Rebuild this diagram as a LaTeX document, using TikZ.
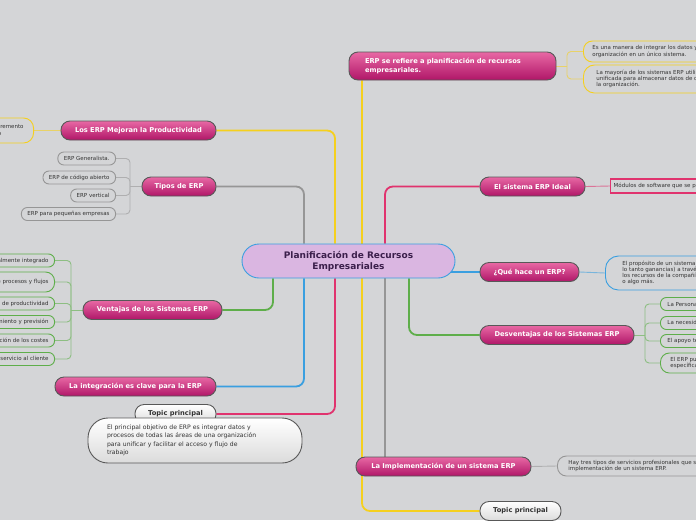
\documentclass[tikz,border=0pt]{standalone}
\usepackage{fontspec}
\setmainfont{DejaVu Sans}
\usepackage{xcolor}
\definecolor{mmbg}{RGB}{212,213,215}
\definecolor{mmtop}{RGB}{232,104,164}
\definecolor{mmbot}{RGB}{176,22,104}
\definecolor{mmedge}{RGB}{88,88,88}
\definecolor{mmyellow}{RGB}{245,208,30}
\definecolor{mmgray}{RGB}{150,150,150}
\definecolor{mmgreen}{RGB}{94,174,74}
\definecolor{mmblue}{RGB}{58,159,224}
\definecolor{mmpink}{RGB}{224,51,110}
\definecolor{mmlilac}{RGB}{218,182,225}
\definecolor{mmplum}{RGB}{59,31,75}
\definecolor{mmink}{RGB}{51,51,51}
\usetikzlibrary{positioning}
\pgfdeclarelayer{back}
\pgfdeclarelayer{wires}
\pgfsetlayers{back,wires,main}

\begin{document}
\begin{tikzpicture}[x=1pt, y=-1pt,
  hub/.style={draw=mmblue, line width=0.9pt, fill=mmlilac, rounded corners=17pt,
    text=mmplum, font=\fontsize{9}{11}\selectfont\bfseries, align=center,
    minimum width=213pt, minimum height=34pt, inner sep=0pt},
  topic/.style={draw=mmedge, line width=0.9pt, rounded corners=9pt,
    top color=mmtop, bottom color=mmbot, text=white,
    font=\fontsize{6.7}{9.5}\selectfont\bfseries,
    minimum height=19pt, inner xsep=0pt, inner ysep=0pt},
  ghost/.style={draw=mmedge, line width=0.9pt, rounded corners=9pt,
    top color=white, bottom color=black!14, text=mmink,
    font=\fontsize{6.7}{9.5}\selectfont\bfseries,
    minimum height=19pt, minimum width=81pt, inner sep=0pt},
  leaf/.style={draw=#1, line width=0.9pt, rounded corners=6pt, text=mmink,
    font=\fontsize{5.5}{6.2}\selectfont, align=left,
    minimum height=13pt, inner xsep=6pt, inner ysep=1.5pt},
  wire/.style={draw=#1, line width=1.8pt, rounded corners=8pt},
  twig/.style={draw=#1!60!mmbg, line width=0.9pt, rounded corners=4pt}]

  \useasboundingbox (0,0) rectangle (696,520);
  \clip (0,0) rectangle (696,520);
  \begin{pgfonlayer}{back}
    \fill[mmbg] (0,0) rectangle (696,520);
  \end{pgfonlayer}

  % Centre
  \node[hub] (plan) at (348.5,261) {Planificación de Recursos\\Empresariales};

  % Trunk columns
  \coordinate (ta) at (273,0);
  \coordinate (tb) at (304,0);
  \coordinate (tc) at (335,0);
  \coordinate (td) at (362,0);
  \coordinate (te) at (385,0);
  \coordinate (tf) at (409,0);

  % Left topics
  \node[topic, minimum width=155pt] (prod) at (138.5,130.5) {Los ERP Mejoran la Productividad};
  \node[topic, minimum width=74pt] (tipos) at (179,186.5) {Tipos de ERP};
  \node[topic, minimum width=139pt] (ventajas) at (152.5,310) {Ventajas de los Sistemas ERP};
  \node[topic, minimum width=161pt] (integ) at (135.5,386.5) {La integración es clave para la ERP};
  \node[ghost] (topic1) at (175.5,414) {Topic principal};
  \node[ghost, rounded corners=20pt, minimum height=45pt, inner xsep=19pt,
        text width=176pt, align=left, font=\fontsize{6.1}{8.5}\selectfont]
       (objetivo) at (195,440.5)
       {El principal objetivo de ERP es integrar datos y\\procesos de todas las áreas de una organización\\para unificar y facilitar el acceso y flujo de\\trabajo};

  % Right topics
  \node[topic, minimum height=28pt, inner xsep=16pt, text width=175pt, align=left]
       (refiere) at (452.5,66) {ERP se refiere a planificación de recursos\\empresariales.};
  \node[topic, minimum width=105pt] (ideal) at (532.5,186.5) {El sistema ERP Ideal};
  \node[topic, minimum width=99pt] (que) at (529.5,272) {¿Qué hace un ERP?};
  \node[topic, minimum width=154pt] (desv) at (557,335) {Desventajas de los Sistemas ERP};
  \node[topic, minimum width=175pt] (impl) at (443.5,466.5) {La Implementación de un sistema ERP};
  \node[ghost] (topic2) at (520.5,511) {Topic principal};

  % Leaves, left
  \node[leaf=mmyellow, anchor=east, minimum height=25pt, inner xsep=10pt, rounded corners=10pt]
       (prodsub) at (34,130.5) {Permiten un notable incremento\\de la calidad del trabajo};
  \node[leaf=mmgray, anchor=east] (erpgen) at (116,158.5) {ERP Generalista.};
  \node[leaf=mmgray, anchor=east] (erpopen) at (116,177.5) {ERP de código abierto};
  \node[leaf=mmgray, anchor=east] (erpvert) at (116,195.5) {ERP vertical};
  \node[leaf=mmgray, anchor=east] (erppyme) at (116,214) {ERP para pequeñas empresas};
  \node[leaf=mmgreen, anchor=east] (v1) at (55,260.5) {Sistema totalmente integrado};
  \node[leaf=mmgreen, anchor=east, minimum height=20pt, rounded corners=9pt]
       (v2) at (55,282) {Optimización de procesos y flujos};
  \node[leaf=mmgreen, anchor=east] (v3) at (55,303.5) {Mayores niveles de productividad};
  \node[leaf=mmgreen, anchor=east] (v4) at (55,322) {Mejor planeamiento y previsión};
  \node[leaf=mmgreen, anchor=east] (v5) at (55,340.5) {Reducción de los costes};
  \node[leaf=mmgreen, anchor=east] (v6) at (55,359) {Mejor servicio al cliente};

  % Leaves, right
  \node[leaf=mmyellow, anchor=west, minimum height=21pt, inner xsep=9pt, rounded corners=9pt]
       (r1) at (583,51.5) {Es una manera de integrar los datos y procesos de una\\organización en un único sistema.};
  \node[leaf=mmyellow, anchor=west, minimum height=28pt, inner xsep=13pt, rounded corners=11pt]
       (r2) at (583,79) {La mayoría de los sistemas ERP utilizan una base de datos\\unificada para almacenar datos de distintas áreas de\\la organización.};
  \node[leaf=mmpink, anchor=west, rounded corners=0pt, line width=1.3pt, minimum height=14pt, inner xsep=3pt]
       (idealsub) at (610,186) {Módulos de software que se pueden integrar entre sí};
  \node[leaf=mmblue, anchor=west, minimum height=34pt, inner xsep=17pt, rounded corners=13pt]
       (quesub) at (605,273) {El propósito de un sistema ERP es aumentar la eficiencia (y por\\lo tanto ganancias) a través de la mejora de cómo se usan\\los recursos de la compañía, ya sea capital humano, material\\o algo más.};
  \node[leaf=mmgreen, anchor=west, inner xsep=7pt] (d1) at (660,304) {La Personalización es limitada};
  \node[leaf=mmgreen, anchor=west, inner xsep=7pt] (d2) at (660,323) {La necesidad de reingeniería de procesos};
  \node[leaf=mmgreen, anchor=west, inner xsep=7pt] (d3) at (660,341) {El apoyo técnico puede ser deficiente};
  \node[leaf=mmgreen, anchor=west, minimum height=20pt, inner xsep=10pt, rounded corners=9pt]
       (d4) at (660,363) {El ERP puede ser demasiado rígido para\\específicas necesidades};
  \node[leaf=mmgray, anchor=west, minimum height=20pt, inner xsep=11pt, rounded corners=9pt]
       (implsub) at (557,466) {Hay tres tipos de servicios profesionales que se ofrecen en la\\implementación de un sistema ERP.};

  \begin{pgfonlayer}{wires}
    % Trunks
    \draw[wire=mmyellow] (prod.east) -| (plan.north -| tc);
    \draw[wire=mmgray] (tipos.east) -| (plan.north -| tb);
    \draw[wire=mmgreen] (ventajas.east) -| (plan.south -| ta);
    \draw[wire=mmblue] (integ.east) -| (plan.south -| tb);
    \draw[wire=mmpink] (topic1.east) -| (plan.south -| tc);
    \draw[wire=mmyellow] (refiere.south -| td) |- (topic2.west);
    \draw[wire=mmpink] (ideal.west) -| (plan.north -| te);
    \draw[wire=mmblue] (que.west) -- (que.west -| plan.center);
    \draw[wire=mmgreen] (desv.west) -| (plan.south -| tf);
    \draw[wire=mmgray] (plan.south -| te) -- (impl.north -| te);

    % Twigs
    \draw[twig=mmyellow] (prod.west) -- (prodsub.east);
    \coordinate (tipj) at (130,186.5);
    \draw[twig=mmgray] (tipos.west) -- (tipj);
    \foreach \n in {erpgen,erpopen,erpvert,erppyme}
      \draw[twig=mmgray] (tipj) |- (\n.east);
    \coordinate (venj) at (71,310);
    \draw[twig=mmgreen] (ventajas.west) -- (venj);
    \foreach \n in {v1,v2,v3,v4,v5,v6}
      \draw[twig=mmgreen] (venj) |- (\n.east);
    \coordinate (refj) at (567,66);
    \draw[twig=mmyellow] (refiere.east) -- (refj);
    \foreach \n in {r1,r2}
      \draw[twig=mmyellow] (refj) |- (\n.west);
    \draw[twig=mmpink] (ideal.east) -- (idealsub.west);
    \draw[twig=mmblue] (que.east) -- (quesub.west);
    \coordinate (desj) at (645,335);
    \draw[twig=mmgreen] (desv.east) -- (desj);
    \foreach \n in {d1,d2,d3,d4}
      \draw[twig=mmgreen] (desj) |- (\n.west);
    \draw[twig=mmgray] (impl.east) -- (implsub.west);
  \end{pgfonlayer}
\end{tikzpicture}
\end{document}
